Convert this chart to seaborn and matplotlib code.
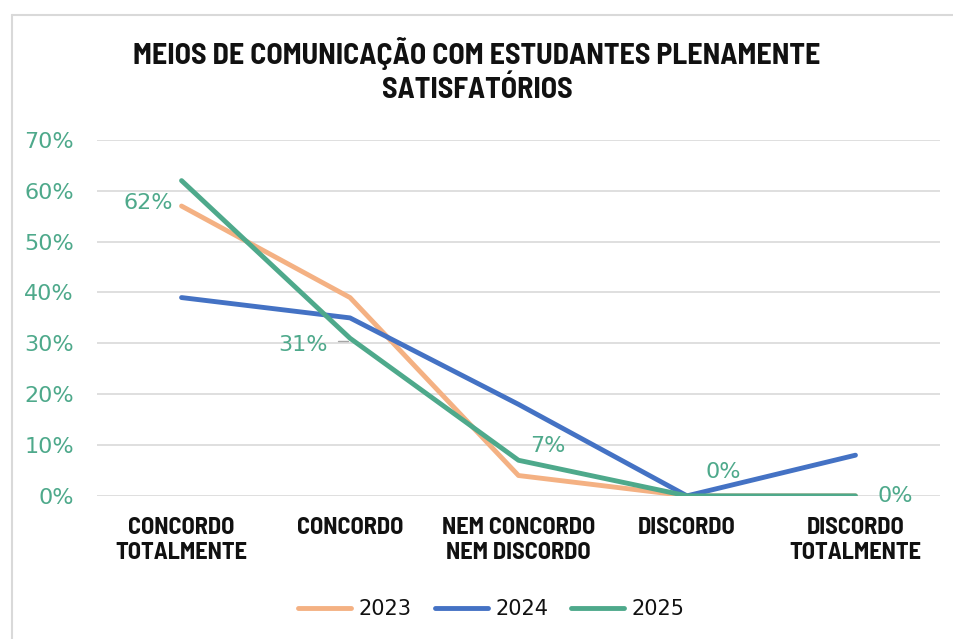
import numpy as np
import pandas as pd
import matplotlib.pyplot as plt
import seaborn as sns

# dados
categorias = ['CONCORDO\nTOTALMENTE', 'CONCORDO', 'NEM CONCORDO\nNEM DISCORDO', 'DISCORDO', 'DISCORDO\nTOTALMENTE']
anos = ['2023', '2024', '2025']
v2023 = [57, 39, 4, 0, 0]
v2024 = [39, 35, 18, 0, 8]
v2025 = [62, 31, 7, 0, 0]
rotulos_2025 = ['62%', '31%', '7%', '0%', '0%']

cores = {'2023': '#F4B183', '2024': '#4472C4', '2025': '#4EA98B'}
teal = '#4EA98B'

df = pd.DataFrame({
    'categoria': categorias * 3,
    'pos': list(range(5)) * 3,
    'ano': ['2023'] * 5 + ['2024'] * 5 + ['2025'] * 5,
    'valor': v2023 + v2024 + v2025,
})

sns.set_style('white')
cond = ['Barlow Semi Condensed', 'DejaVu Sans']
sans = ['DejaVu Sans']
plt.rcParams['font.family'] = sans

fig = plt.figure(figsize=(9.54, 6.39), dpi=100)
ax = fig.add_axes([0.102, 0.224, 0.883, 0.557])

sns.lineplot(data=df, x='pos', y='valor', hue='ano', palette=cores, sort=False,
             linewidth=3.5, ax=ax, legend=False)

ax.set_xlim(-0.5, 4.5)
ax.set_ylim(0, 70)
ax.set_yticks(range(0, 71, 10))
ax.set_yticklabels([f'{v}%' for v in range(0, 71, 10)], color=teal, fontsize=16, family=sans)
ax.set_xticks(range(5))
ax.set_xticklabels(categorias, fontsize=17.5, fontweight='bold', color='#111111',
                   linespacing=1.2, family=cond)
ax.tick_params(axis='y', length=0, pad=17)
ax.tick_params(axis='x', length=0, pad=15)
ax.grid(axis='y', color='#D9D9D9', linewidth=1.2)
ax.set_axisbelow(True)
for s in ax.spines.values():
    s.set_visible(False)
ax.set_xlabel('')
ax.set_ylabel('')

# rótulos 2025
lbl_kw = dict(color=teal, fontsize=16, family=sans)
ax.annotate(rotulos_2025[0], (0, v2025[0]), xytext=(-6, -16), textcoords='offset points', ha='right', va='center', **lbl_kw)
ax.annotate(rotulos_2025[1], (1, v2025[1]), xytext=(-16, -5), textcoords='offset points', ha='right', va='center', **lbl_kw)
ax.plot([0.93, 0.99], [30.5, 30.5], color='#A6A6A6', linewidth=1)
ax.annotate(rotulos_2025[2], (2, v2025[2]), xytext=(21, 10), textcoords='offset points', ha='center', va='center', **lbl_kw)
ax.annotate(rotulos_2025[3], (3, v2025[3]), xytext=(26, 17), textcoords='offset points', ha='center', va='center', **lbl_kw)
ax.annotate(rotulos_2025[4], (4, v2025[4]), xytext=(29, 0), textcoords='offset points', ha='center', va='center', **lbl_kw)

fig.text(0.5, 0.89, 'MEIOS DE COMUNICAÇÃO COM ESTUDANTES PLENAMENTE\nSATISFATÓRIOS',
         ha='center', va='center', fontsize=21.5, fontweight='bold', color='#111111',
         linespacing=1.3, family=cond)

handles = [plt.Line2D([], [], color=cores[a], linewidth=3.5) for a in anos]
fig.legend(handles, anos, loc='center', bbox_to_anchor=(0.515, 0.047), ncol=3, frameon=False,
           handlelength=2.55, columnspacing=1.1, handletextpad=0.35, labelcolor='#111111',
           prop={'family': sans, 'size': 15})

# moldura
fig.add_artist(plt.Line2D([0.013, 0.013], [0, 0.976], color='#D9D9D9', linewidth=1.5, transform=fig.transFigure))
fig.add_artist(plt.Line2D([0.013, 1.0], [0.976, 0.976], color='#D9D9D9', linewidth=1.5, transform=fig.transFigure))

fig.savefig('out.png', dpi=100)
